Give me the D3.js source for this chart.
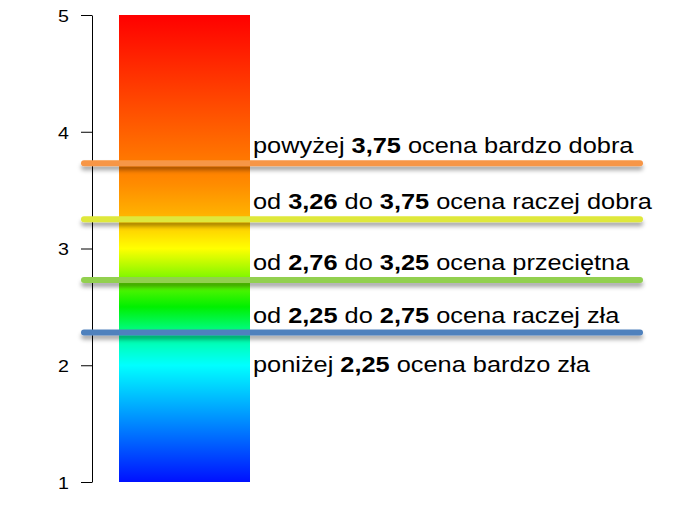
<!DOCTYPE html>
<html>
<head>
<meta charset="utf-8">
<script src="https://cdn.jsdelivr.net/npm/d3@7"></script>
<style>
  body { margin: 0; background: #fff; }
  svg { display: block; font-family: "Liberation Sans", Arial, sans-serif; }
</style>
</head>
<body>
<svg id="chart" width="674" height="520"></svg>
<script>
// scale values on the axis
let tickValues = [1, 2, 3, 4, 5];

// the coloured bar runs over the whole scale
let barCategory = ["ocena"];
let barFrom = [1];
let barTo = [5];

// colour stops of the bar, by scale value
let gradValues = [5, 3.55, 3.3, 3.0, 2.5, 2.25, 2.0, 1];
let gradColors = ["#ff0000", "#ff8c00", "#ffb000", "#ffff00", "#00f000", "#00ffa0", "#00ffff", "#0010ff"];

// threshold lines
let lineValues = [3.73, 3.25, 2.73, 2.28];
let lineColors = ["#f79646", "#dfe83a", "#92d050", "#4f81bd"];

// labels: pieces of text, second item = bold
let labels = [
    [["powyżej ", 0], ["3,75", 1], [" ocena bardzo dobra", 0]],
    [["od ", 0], ["3,26", 1], [" do ", 0], ["3,75", 1], [" ocena raczej dobra", 0]],
    [["od ", 0], ["2,76", 1], [" do ", 0], ["3,25", 1], [" ocena przeciętna", 0]],
    [["od ", 0], ["2,25", 1], [" do ", 0], ["2,75", 1], [" ocena raczej zła", 0]],
    [["poniżej ", 0], ["2,25", 1], [" ocena bardzo zła", 0]]
];

let svg = d3.select("#chart");
let stretch = 1.19; // the picture is a bit wider than tall

let y = d3.scaleLinear().domain([1, 5]).range([482, 15]);
let x = d3.scaleBand().domain(barCategory).range([119, 250]).padding(0);

// gradient for the bar
let defs = svg.append("defs");
let grad = defs.append("linearGradient")
    .attr("id", "rainbow")
    .attr("gradientUnits", "userSpaceOnUse")
    .attr("x1", 0).attr("x2", 0)
    .attr("y1", y(5)).attr("y2", y(1));
grad.selectAll("stop")
    .data(gradValues)
    .enter().append("stop")
    .attr("offset", d => (y(d) - y(5)) / (y(1) - y(5)))
    .attr("stop-color", (d, i) => gradColors[i]);

// shadow under the lines (user space, a flat line has no bbox height)
let shadow = defs.append("filter")
    .attr("id", "shadow")
    .attr("filterUnits", "userSpaceOnUse")
    .attr("x", 0).attr("y", 0)
    .attr("width", 674).attr("height", 520);
shadow.append("feDropShadow")
    .attr("dx", 0).attr("dy", 4)
    .attr("stdDeviation", 2)
    .attr("flood-color", "#000")
    .attr("flood-opacity", 0.35);

// axis
let axis = svg.append("g")
    .attr("transform", "translate(92,0)")
    .call(d3.axisLeft(y).tickValues(tickValues).tickFormat(d3.format("d")).tickSize(11).tickSizeOuter(0));
axis.select(".domain").attr("stroke", "#000");
axis.selectAll(".tick line").attr("stroke", "#000");
axis.selectAll(".tick text")
    .attr("x", 0)
    .attr("transform", "translate(-23,1) scale(" + stretch + ",1)")
    .attr("font-size", 16.5)
    .attr("font-family", "Liberation Sans, Arial, sans-serif")
    .attr("fill", "#000");

// bar
svg.selectAll(".bar")
    .data(barCategory)
    .enter().append("rect")
    .attr("class", "bar")
    .attr("x", d => x(d))
    .attr("width", x.bandwidth())
    .attr("y", (d, i) => y(barTo[i]))
    .attr("height", (d, i) => y(barFrom[i]) - y(barTo[i]))
    .attr("fill", "url(#rainbow)");

// threshold lines
svg.selectAll(".thr")
    .data(lineValues)
    .enter().append("line")
    .attr("class", "thr")
    .attr("x1", 84).attr("x2", 640)
    .attr("y1", d => y(d)).attr("y2", d => y(d))
    .attr("stroke", (d, i) => lineColors[i])
    .attr("stroke-width", 6)
    .attr("stroke-linecap", "round")
    .attr("filter", "url(#shadow)");

// labels
function labelBaseline(i) {
    if (i < lineValues.length) return y(lineValues[i]) - 10;
    return y(lineValues[lineValues.length - 1]) + 39;
}

let texts = svg.selectAll(".lab")
    .data(labels)
    .enter().append("text")
    .attr("class", "lab")
    .attr("transform", (d, i) => "translate(253," + labelBaseline(i) + ") scale(" + stretch + ",1)")
    .attr("font-size", 21.3)
    .attr("fill", "#000");
texts.selectAll("tspan")
    .data(d => d)
    .enter().append("tspan")
    .attr("font-weight", d => d[1] ? "bold" : "normal")
    .style("white-space", "pre")
    .text(d => d[0]);
</script>
</body>
</html>
